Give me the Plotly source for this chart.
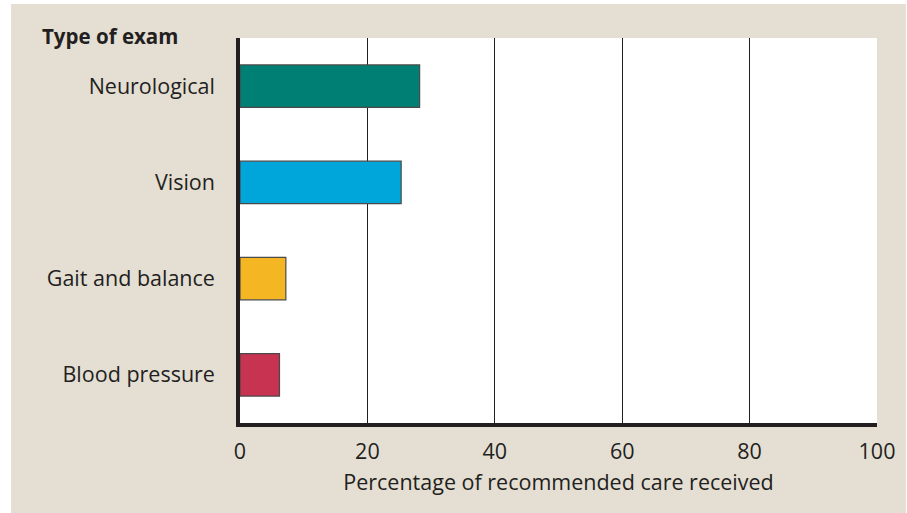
import plotly.graph_objects as go

categories = ["Neurological", "Vision", "Gait and balance", "Blood pressure"]
values = [28.2, 25.3, 7.2, 6.2]
colors = ["#008075", "#00A5DA", "#F5B624", "#C73351"]
x_ticks = [0, 20, 40, 60, 80, 100]

BEIGE = "#E4DED3"
INK = "#231F20"
FONT = "Open Sans, Noto Sans, sans-serif"
FS = 21.5

W, H = 907, 513
L, T, R, B = 240, 38, 27, 90
PW, PH = W - L - R, H - T - B


def px_x(p):
    return (p - L) / PW


def px_y(p):
    return (H - B - p) / PH


fig = go.Figure()
fig.add_trace(go.Bar(
    y=categories, x=values, orientation="h",
    marker=dict(color=colors, line=dict(color="#4a4a4a", width=1.2)),
    width=0.44,
    hoverinfo="skip",
))

fig.update_layout(
    width=W, height=H,
    margin=dict(l=L, r=R, t=T, b=B),
    paper_bgcolor="white",
    plot_bgcolor="white",
    showlegend=False,
    font=dict(family=FONT, size=FS, color=INK),
    shapes=[
        dict(type="rect", xref="paper", yref="paper",
             x0=px_x(10), x1=px_x(W + 2), y0=px_y(H + 2), y1=px_y(4),
             fillcolor=BEIGE, line=dict(width=0), layer="below"),
        dict(type="rect", xref="paper", yref="paper",
             x0=0, x1=1, y0=0, y1=1,
             fillcolor="white", line=dict(width=0), layer="below"),
    ],
    annotations=[dict(text="<b>Type of exam</b>", xref="paper", yref="paper",
                      x=px_x(39), y=px_y(36),
                      xanchor="left", yanchor="middle", showarrow=False,
                      font=dict(family=FONT, size=20.5, color=INK))],
)

fig.update_xaxes(
    range=[0, 100], tickvals=x_ticks, ticktext=[str(v) for v in x_ticks],
    showgrid=True, gridcolor=INK, gridwidth=1.2,
    showline=True, linecolor=INK, linewidth=3.5,
    ticks="", zeroline=False, ticklabelstandoff=6,
    title=dict(text="Percentage of recommended care received", standoff=12,
               font=dict(size=FS, color=INK)),
    tickfont=dict(size=FS, color=INK),
    fixedrange=True,
)
fig.update_yaxes(
    categoryorder="array", categoryarray=categories[::-1],
    showgrid=False, showline=True, linecolor=INK, linewidth=3.5,
    ticks="", ticklabelstandoff=17,
    tickfont=dict(size=FS, color=INK),
    fixedrange=True,
)

fig.write_html(
    "out.html",
    config={"displayModeBar": False},
    post_script="document.body.style.margin='0';document.body.style.overflow='hidden';",
)
